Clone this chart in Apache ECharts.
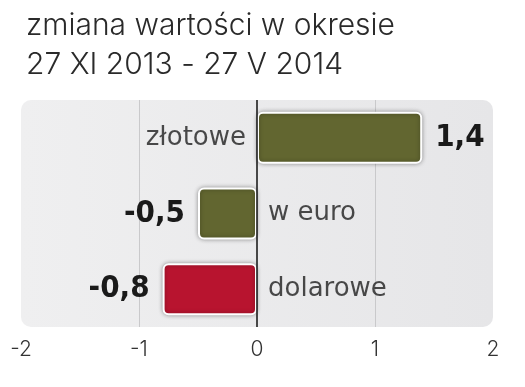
<!DOCTYPE html>
<html><head><meta charset="utf-8">
<script src="https://cdn.jsdelivr.net/npm/echarts@6/dist/echarts.min.js"></script>
<style>html,body{margin:0;padding:0;background:#fff}#c{width:525px;height:387px}</style>
</head><body><div id="c"></div>
<script>
const categories = ['złotowe', 'w euro', 'dolarowe'];
const values = [1.4, -0.5, -0.8];
const valueLabels = ['1,4', '-0,5', '-0,8'];
const barColors = ['#626630', '#626630', '#b8142f'];
const axisMin = -2, axisMax = 2, axisInterval = 1;

const G = {left: 21, right: 32, top: 100, bottom: 60};
const W = 525, H = 387;
const chart = echarts.init(document.getElementById('c'));
chart.setOption({
  animation: false,
  title: {
    text: 'zmiana wartości w okresie\n27 XI 2013 - 27 V 2014',
    left: 21, top: 1,
    textStyle: {fontFamily: 'Inter', fontWeight: 300, fontSize: 30, lineHeight: 39, color: '#2a2a2a'}
  },
  graphic: [{
    type: 'rect', z: -10, silent: true,
    shape: {x: G.left, y: G.top, width: W - G.left - G.right, height: H - G.top - G.bottom, r: 10},
    style: {fill: new echarts.graphic.LinearGradient(0, 0, 1, 0, [{offset: 0, color: '#efeff0'}, {offset: 1, color: '#e6e6e8'}])}
  }],
  grid: {left: G.left, right: G.right, top: G.top, bottom: G.bottom},
  xAxis: {
    type: 'value', min: axisMin, max: axisMax, interval: axisInterval,
    axisLine: {show: false}, axisTick: {show: false},
    axisLabel: {fontFamily: 'Inter', fontWeight: 300, fontSize: 21, color: '#333', margin: 12,
      formatter: v => String(v)},
    splitLine: {show: true, lineStyle: {color: ['rgba(0,0,0,0)', '#c9c9cb', 'rgba(0,0,0,0)', '#c9c9cb', 'rgba(0,0,0,0)'], width: 1}}
  },
  yAxis: {
    type: 'category', data: categories, inverse: true,
    axisLine: {show: false}, axisTick: {show: false}, axisLabel: {show: false}, splitLine: {show: false}
  },
  series: [{
    type: 'bar',
    barWidth: 52,
    data: values.map((v, i) => ({
      value: v,
      itemStyle: {color: barColors[i]},
      label: {position: v >= 0 ? 'right' : 'left'}
    })),
    itemStyle: {borderColor: '#fff', borderWidth: 2, borderRadius: 5, shadowBlur: 4, shadowColor: 'rgba(0,0,0,0.35)'},
    label: {show: true, distance: 13, formatter: p => valueLabels[p.dataIndex],
      fontFamily: 'DejaVu Sans Condensed', fontWeight: 'bold', fontSize: 31, color: '#1a1a1a'},
    markLine: {silent: true, symbol: 'none', label: {show: false},
      lineStyle: {color: '#111', width: 1.5, type: 'solid'}, data: [{xAxis: 0}]},
    z: 3
  }, {
    type: 'scatter', symbolSize: 0,
    data: values.map((v, i) => ({
      value: [0, categories[i]],
      label: {position: v >= 0 ? 'left' : 'right'}
    })),
    label: {show: true, distance: 11, formatter: p => categories[p.dataIndex],
      fontFamily: 'DejaVu Sans', fontSize: 26, color: '#1e1e1e'},
    z: 4
  }]
});
</script></body></html>
